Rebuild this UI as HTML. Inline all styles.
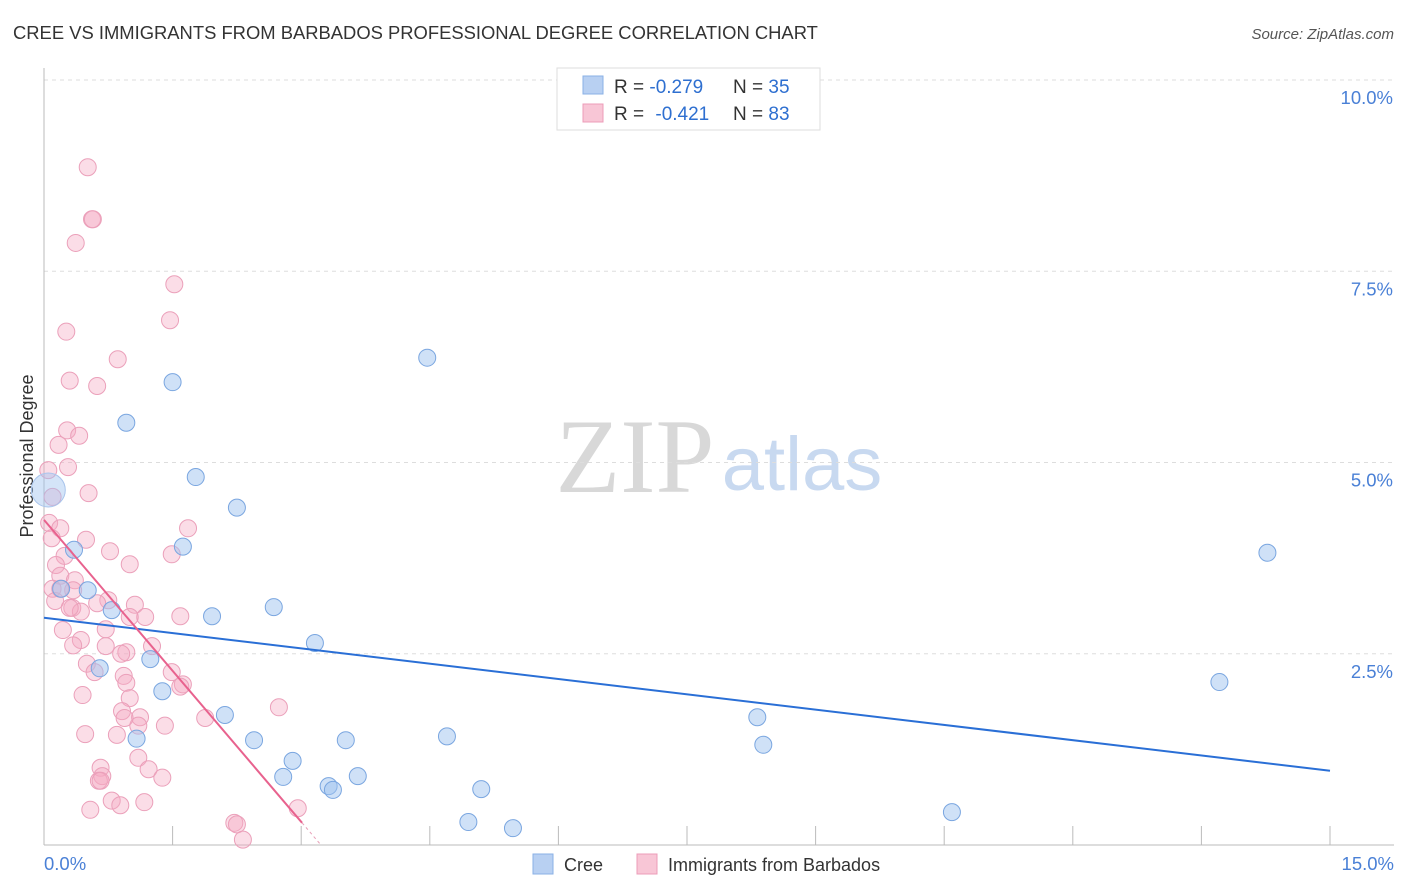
<!DOCTYPE html>
<html><head><meta charset="utf-8"><style>
body{margin:0;background:#fff;font-family:"Liberation Sans",sans-serif;}
#c{position:relative;width:1406px;height:892px;overflow:hidden;}
</style></head><body>
<div id="c">
<svg id="s" width="1406" height="892" xmlns="http://www.w3.org/2000/svg" style="position:absolute;left:0;top:0">
<text x="13" y="39" font-size="18.4" fill="#333">CREE VS IMMIGRANTS FROM BARBADOS PROFESSIONAL DEGREE CORRELATION CHART</text>
<text x="1394" y="39" font-size="15" fill="#555" font-style="italic" text-anchor="end">Source: ZipAtlas.com</text>
<text x="635" y="492" font-size="106" fill="#d8d8d8" font-family="Liberation Serif" text-anchor="middle">ZIP</text>
<text x="802" y="490" font-size="76" fill="#c8d9f0" text-anchor="middle">atlas</text>
<text transform="translate(33,456) rotate(-90)" font-size="18" fill="#333" text-anchor="middle">Professional Degree</text>
<g id="grid"></g><g id="pts"></g><g id="lines"></g>
<g>
<rect x="557" y="68" width="263" height="62" fill="#fff" stroke="#ddd"/>
<rect x="583" y="76" width="20" height="18" fill="#b8d0f2" stroke="#8ab0e6"/>
<rect x="583" y="104" width="20" height="18" fill="#f8c6d6" stroke="#ec9cb8"/>
<text x="614" y="93" font-size="19" fill="#333">R = <tspan fill="#2e6fd0">-0.279</tspan></text>
<text x="733" y="93" font-size="19" fill="#333">N = <tspan fill="#2e6fd0">35</tspan></text>
<text x="614" y="120" font-size="19" fill="#333">R = <tspan fill="#2e6fd0" dx="6">-0.421</tspan></text>
<text x="733" y="120" font-size="19" fill="#333">N = <tspan fill="#2e6fd0">83</tspan></text>
</g>
<g>
<rect x="533" y="854" width="20" height="20" fill="#b8d0f2" stroke="#8ab0e6"/>
<text x="564" y="871" font-size="18" fill="#333">Cree</text>
<rect x="637" y="854" width="20" height="20" fill="#f8c6d6" stroke="#ec9cb8"/>
<text x="668" y="871" font-size="18" fill="#333">Immigrants from Barbados</text>
</g>
</svg>
</div>
<script>
const yTicks=[2.5,5.0,7.5,10.0];
const xTickVals=[0,1.5,3,4.5,6,7.5,9,10.5,12,13.5,15];
const creeX=[4.47,1.50,0.96,1.77,2.25,1.62,14.27,0.35,0.51,0.20,0.79,1.96,2.68,3.16,1.24,0.65,13.71,1.38,2.11,8.32,1.08,2.45,3.52,4.70,8.39,2.90,2.79,3.32,3.37,3.66,5.10,4.95,5.47,10.59];
const creeY=[6.37,6.05,5.52,4.81,4.41,3.90,3.82,3.86,3.33,3.35,3.07,2.99,3.11,2.64,2.43,2.31,2.13,2.01,1.70,1.67,1.39,1.37,1.37,1.42,1.31,1.10,0.89,0.77,0.72,0.90,0.73,0.30,0.22,0.43];
const barbX=[0.51,0.56,0.57,0.37,1.52,1.47,0.26,0.86,0.30,0.62,0.27,0.41,0.17,0.28,0.05,0.52,0.10,0.06,0.19,1.68,0.09,0.49,1.49,0.77,0.24,0.14,1.00,0.19,0.36,0.10,0.34,0.75,0.13,0.62,1.06,0.33,0.43,1.18,1.59,0.22,0.72,0.43,0.34,1.26,0.72,0.96,0.90,0.50,1.49,0.59,0.93,1.62,1.59,0.96,1.00,0.45,2.74,0.91,1.88,1.12,1.41,1.10,0.48,0.85,1.10,0.66,1.22,0.68,1.38,0.64,0.79,1.17,0.89,0.54,2.22,2.25,2.32,2.96,0.94,0.19,0.30,1.00,0.66];
const barbY=[8.86,8.18,8.18,7.87,7.33,6.86,6.71,6.35,6.07,6.00,5.42,5.35,5.23,4.94,4.90,4.60,4.55,4.21,4.14,4.14,4.01,3.99,3.80,3.84,3.78,3.66,3.67,3.52,3.46,3.35,3.33,3.20,3.19,3.16,3.14,3.10,3.05,2.98,2.99,2.81,2.82,2.68,2.61,2.60,2.60,2.52,2.50,2.37,2.26,2.26,2.21,2.10,2.07,2.12,1.92,1.96,1.80,1.75,1.66,1.67,1.56,1.56,1.45,1.44,1.14,1.01,0.99,0.90,0.88,0.84,0.58,0.56,0.52,0.46,0.29,0.27,0.07,0.48,1.66,3.35,3.10,2.98,0.84];
const creeBig=[0.05,4.64];
const creeTrend=[2.97,0.97];
const barbTrend=[4.25,0.29,3.01];
const X=v=>44+v*1286/15, Y=v=>845-v*76.5;
const NS='http://www.w3.org/2000/svg';
function mk(p,t,a){const e=document.createElementNS(NS,t);for(const k in a)e.setAttribute(k,a[k]);p.appendChild(e);return e;}
const g=document.getElementById('grid');
yTicks.forEach(v=>{
 const l=mk(g,'line',{x1:44,x2:1394,y1:Y(v),y2:Y(v),stroke:'#ddd','stroke-dasharray':'4,4'});
 
 
 const t=mk(g,'text',{x:1393,y:Y(v)+24,'font-size':18.5,fill:'#4a80d6','text-anchor':'end'});t.textContent=v.toFixed(1)+'%';
 
 
});
mk(g,'line',{x1:44,x2:1394,y1:845,y2:845,stroke:'#bbb'});
mk(g,'line',{x1:44,x2:44,y1:68,y2:845,stroke:'#bbb'});
xTickVals.forEach(v=>{const l=mk(g,'line',{x1:X(v),x2:X(v),y1:826,y2:845,stroke:'#bbb'});
 
 });
[[0,'0.0%',44,'start'],[15,'15.0%',1394,'end']].forEach(a=>{const t=mk(g,'text',{x:a[2],y:870,'font-size':18.5,fill:'#4a80d6','text-anchor':a[3]});t.textContent=a[1];
 
 });
const p=document.getElementById('pts');
barbX.forEach((x,i)=>{const c=mk(p,'circle',{cx:X(x),cy:Y(barbY[i]),r:8.5,fill:'rgba(244,170,196,0.4)',stroke:'#eba0ba','stroke-width':1});
 
 });
creeX.forEach((x,i)=>{const c=mk(p,'circle',{cx:X(x),cy:Y(creeY[i]),r:8.5,fill:'rgba(160,196,240,0.5)',stroke:'#7aa6e0','stroke-width':1});
 
 });
const b=mk(p,'circle',{cx:X(creeBig[0]),cy:Y(creeBig[1]),r:17,fill:'rgba(160,196,240,0.45)',stroke:'#a8c4ec'});


const L=document.getElementById('lines');
const t1=mk(L,'line',{x1:X(0),y1:Y(creeTrend[0]),x2:X(15),y2:Y(creeTrend[1]),stroke:'#2a6fd6','stroke-width':2});


const sl=(barbTrend[1]-barbTrend[0])/barbTrend[2];
const t2=mk(L,'line',{x1:X(0),y1:Y(barbTrend[0]),x2:X(barbTrend[2]),y2:Y(barbTrend[1]),stroke:'#e8628e','stroke-width':2});


const xe=-barbTrend[0]/sl;
const t3=mk(L,'line',{x1:X(barbTrend[2]),y1:Y(barbTrend[1]),x2:X(xe),y2:Y(0),stroke:'#e8a0b8','stroke-width':1,'stroke-dasharray':'3,3'});


</script>
</body></html>
